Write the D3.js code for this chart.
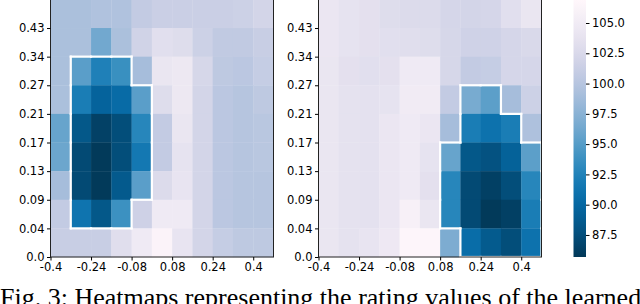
<!DOCTYPE html>
<html>
<head>
<meta charset="utf-8">
<script src="https://cdn.jsdelivr.net/npm/d3@7"></script>
<style>
  body { margin: 0; background: #fff; overflow: hidden; }
  svg { display: block; }
  .tick text { font-family: "DejaVu Sans", sans-serif; font-size: 11.5px; fill: #000; }
</style>
</head>
<body>
<svg id="chart" width="640" height="304"></svg>
<script>
// tick labels (row / column boundaries)
var yLabels = ["0.0", "0.04", "0.09", "0.13", "0.17", "0.21", "0.27", "0.34", "0.43"];
var xLabels = ["-0.4", "-0.24", "-0.08", "0.08", "0.24", "0.4"];
var cbTicks = [87.5, 90.0, 92.5, 95.0, 97.5, 100.0, 102.5, 105.0];
var cbRange = [85.68, 106.9];

// heatmap values, rows listed top -> bottom, 11 columns each
var leftVals = [
  [99.3, 99.3, 99.6, 99.6, 100.8, 101.3, 101.3, 101.3, 101.3, 101.5, 102.0],
  [99.3, 99.3, 96.3, 99.3, 101.8, 103.3, 103.0, 101.5, 100.7, 100.7, 101.2],
  [99.3, 95.2, 92.3, 93.7, 99.0, 104.2, 104.5, 102.3, 100.5, 100.3, 101.0],
  [99.3, 92.0, 89.5, 90.3, 95.2, 103.0, 104.5, 102.0, 100.3, 100.0, 100.5],
  [95.8, 88.3, 86.4, 87.4, 92.8, 100.8, 104.2, 102.0, 100.3, 100.0, 100.2],
  [96.0, 87.1, 85.8, 87.4, 91.6, 100.8, 103.8, 102.0, 100.3, 100.0, 100.2],
  [99.0, 87.1, 85.8, 88.5, 95.2, 102.8, 104.0, 102.0, 100.3, 100.0, 100.0],
  [100.8, 91.2, 88.3, 93.8, 101.6, 104.8, 104.8, 102.0, 100.3, 100.0, 100.0],
  [101.2, 101.2, 101.2, 103.2, 104.8, 106.3, 104.0, 102.0, 101.0, 100.5, 100.5]
];
var rightVals = [
  [104.3, 103.8, 103.5, 103.0, 102.8, 102.8, 102.2, 102.0, 102.2, 103.3, 104.2],
  [104.3, 103.8, 103.5, 103.3, 103.2, 103.0, 102.3, 101.7, 101.7, 102.2, 102.5],
  [104.2, 103.5, 103.3, 103.5, 104.8, 104.8, 102.3, 100.8, 101.0, 102.2, 102.2],
  [104.2, 103.7, 103.6, 103.8, 105.0, 105.0, 100.8, 96.6, 95.3, 99.0, 101.5],
  [104.2, 103.7, 103.6, 104.3, 104.8, 104.3, 99.0, 92.0, 91.0, 92.0, 99.5],
  [104.2, 103.7, 103.6, 104.3, 104.8, 103.8, 95.8, 88.3, 87.8, 89.3, 95.3],
  [104.2, 103.7, 103.6, 104.3, 104.8, 103.5, 92.8, 87.1, 86.3, 87.4, 92.8],
  [104.2, 103.7, 103.6, 104.3, 105.8, 104.2, 92.8, 87.1, 85.8, 86.3, 92.0],
  [104.2, 103.7, 104.0, 104.6, 106.6, 106.6, 96.8, 90.5, 88.6, 87.4, 91.0]
];

// highlighted regions (1 = inside white outline)
var leftMask = [
  [0,0,0,0,0,0,0,0,0,0,0],
  [0,0,0,0,0,0,0,0,0,0,0],
  [0,1,1,1,0,0,0,0,0,0,0],
  [0,1,1,1,1,0,0,0,0,0,0],
  [0,1,1,1,1,0,0,0,0,0,0],
  [0,1,1,1,1,0,0,0,0,0,0],
  [0,1,1,1,1,0,0,0,0,0,0],
  [0,1,1,1,0,0,0,0,0,0,0],
  [0,0,0,0,0,0,0,0,0,0,0]
];
var rightMask = [
  [0,0,0,0,0,0,0,0,0,0,0],
  [0,0,0,0,0,0,0,0,0,0,0],
  [0,0,0,0,0,0,0,0,0,0,0],
  [0,0,0,0,0,0,0,1,1,0,0],
  [0,0,0,0,0,0,0,1,1,1,0],
  [0,0,0,0,0,0,1,1,1,1,1],
  [0,0,0,0,0,0,1,1,1,1,1],
  [0,0,0,0,0,0,1,1,1,1,1],
  [0,0,0,0,0,0,0,1,1,1,1]
];

var caption = "Fig. 3: Heatmaps representing the rating values of the learned";

var nRows = leftVals.length, nCols = leftVals[0].length;
var svg = d3.select("#chart");

var color = d3.scaleSequential(function(t) { return d3.interpolatePuBu(1 - t); })
    .domain(cbRange);

// top edge of the plots sits just above the picture
var y = d3.scaleLinear().domain([0, nRows]).range([257, -0.6]);

function drawHeatmap(left, vals, mask) {
  var x = d3.scaleLinear().domain([0, nCols]).range([left, left + 223]);
  var g = svg.append("g");

  var cells = [];
  vals.forEach(function(row, r) {
    row.forEach(function(v, c) {
      cells.push({r: r, c: c, v: v});
    });
  });

  // rows are listed top -> bottom, y index counts from bottom
  g.selectAll("rect.cell")
      .data(cells)
    .enter().append("rect")
      .attr("class", "cell")
      .attr("x", d => x(d.c))
      .attr("y", d => y(nRows - d.r))
      .attr("width", d => x(d.c + 1) - x(d.c) + 0.3)
      .attr("height", d => y(nRows - d.r - 1) - y(nRows - d.r) + 0.3)
      .attr("fill", d => color(d.v));

  // outline of masked region
  function inside(r, c) {
    return r >= 0 && r < nRows && c >= 0 && c < nCols && mask[r][c] === 1;
  }
  var segs = [];
  cells.forEach(function(d) {
    if (!inside(d.r, d.c)) return;
    var x0 = x(d.c), x1 = x(d.c + 1);
    var y0 = y(nRows - d.r), y1 = y(nRows - d.r - 1);
    if (!inside(d.r - 1, d.c)) segs.push([x0, y0, x1, y0]);
    if (!inside(d.r + 1, d.c)) segs.push([x0, y1, x1, y1]);
    if (!inside(d.r, d.c - 1)) segs.push([x0, y0, x0, y1]);
    if (!inside(d.r, d.c + 1)) segs.push([x1, y0, x1, y1]);
  });
  g.selectAll("line.outline")
      .data(segs)
    .enter().append("line")
      .attr("class", "outline")
      .attr("x1", d => d[0]).attr("y1", d => d[1])
      .attr("x2", d => d[2]).attr("y2", d => d[3])
      .attr("stroke", "#fff")
      .attr("stroke-width", 2.2)
      .attr("stroke-linecap", "square");

  // frame
  g.append("rect")
      .attr("x", x(0)).attr("y", y(nRows))
      .attr("width", x(nCols) - x(0))
      .attr("height", y(0) - y(nRows))
      .attr("fill", "none")
      .attr("stroke", "#222")
      .attr("stroke-width", 1);

  var yAxis = g.append("g")
      .attr("transform", "translate(" + x(0) + ",0)")
      .call(d3.axisLeft(y)
        .tickValues(d3.range(yLabels.length))
        .tickFormat((d, i) => yLabels[i])
        .tickSize(3.5).tickSizeOuter(0).tickPadding(2.5));
  yAxis.select(".domain").remove();

  var xAxis = g.append("g")
      .attr("transform", "translate(0," + y(0) + ")")
      .call(d3.axisBottom(x)
        .tickValues(d3.range(0, nCols, 2))
        .tickFormat((d, i) => xLabels[i])
        .tickSize(3.5).tickSizeOuter(0).tickPadding(2));
  xAxis.select(".domain").remove();
}

drawHeatmap(50.5, leftVals, leftMask);
drawHeatmap(318.5, rightVals, rightMask);

// colorbar
var cb = d3.scaleLinear().domain(cbRange).range([257, 0]);
var grad = svg.append("defs").append("linearGradient")
    .attr("id", "cbgrad")
    .attr("x1", 0).attr("y1", 1).attr("x2", 0).attr("y2", 0);
d3.range(0, 1.0001, 0.05).forEach(function(t) {
  grad.append("stop")
      .attr("offset", t)
      .attr("stop-color", color(cbRange[0] + t * (cbRange[1] - cbRange[0])));
});
svg.append("rect")
    .attr("x", 573.5).attr("y", cb(cbRange[1]))
    .attr("width", 12.5).attr("height", cb(cbRange[0]) - cb(cbRange[1]))
    .attr("fill", "url(#cbgrad)");
var cbAxis = svg.append("g")
    .attr("transform", "translate(586,0)")
    .call(d3.axisRight(cb)
      .tickValues(cbTicks)
      .tickFormat(d3.format(".1f"))
      .tickSize(3.5).tickSizeOuter(0).tickPadding(2.5));
cbAxis.select(".domain").remove();

// caption, cut by the bottom edge as in the source figure
svg.append("text")
    .attr("x", 0).attr("y", 305.5)
    .attr("font-family", "'Liberation Serif', 'Times New Roman', serif")
    .attr("font-size", 26)
    .attr("fill", "#000")
    .text(caption);
</script>
</body>
</html>
